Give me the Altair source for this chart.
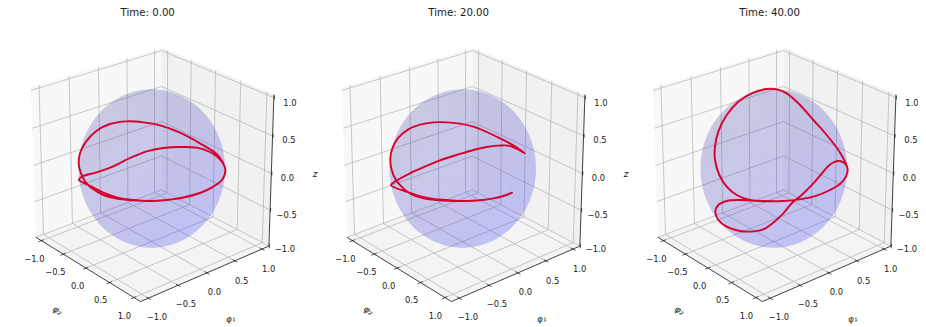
import numpy as np
import pandas as pd
import altair as alt

# figure-pixel frame of the picture
W, H = 910, 317
PANEL_DX = [0, 311, 622]
TITLES = ["Time: 0.00", "Time: 20.00", "Time: 40.00"]
TICKS = [-1.0, -0.5, 0.0, 0.5, 1.0]
TICK_TEXT = ["\u22121.0", "\u22120.5", "0.0", "0.5", "1.0"]

# box geometry
L, ZL, ZT = 1.13, -1.0, 1.04
CAM_3D = [(-L, -L, ZL), (L, -L, ZL), (L, L, ZL), (-L, L, ZL),
          (-L, -L, ZT), (-L, L, ZT), (L, L, ZT),
          (0, -L, ZL), (L, 0, ZL), (L, L, 0), (-L, L, 0)]
CAM_2D = [(36, 238), (140, 300.7), (268.5, 246.5), (161.7, 189),
          (31, 87), (161.7, 48), (274, 94.5),
          (86, 268.3), (207.3, 273.3), (271.7, 173.3), (160.8, 121.7)]

# tick-label positions
A_LABEL_XY = [(34.3, 259.2), (55.3, 272.2), (77.7, 285.8), (100.7, 300.2), (124.3, 315.5)]
B_LABEL_XY = [(157, 316.5), (186, 303.8), (214.3, 291.5), (241.7, 280.5), (268.7, 269.2)]
Z_LABEL_XY = [(285, 249.2), (286.7, 214.5), (287.5, 177.5), (289, 140.2), (290, 102.8)]

SPHERE_C, SPHERE_RX, SPHERE_RY = (151.7, 168.5), 73.3, 79.2

# trajectories (3x zoom pixels, relative to each crop origin)
CURVE_0 = [(592, 581), (550, 592), (500, 600), (450, 603), (400, 600), (350, 592), (310, 578), (275, 560),
           (250, 548), (237, 540), (245, 530), (290, 517), (340, 499), (390, 474), (440, 454), (490, 444),
           (540, 441), (590, 443), (630, 456), (660, 478), (676, 508), (668, 537), (640, 560), (600, 579),
           (550, 593), (500, 600), (450, 603), (400, 601), (350, 596), (310, 585), (280, 568), (258, 548),
           (243, 520), (236, 490), (240, 460), (258, 425), (290, 392), (330, 372), (380, 364), (430, 367),
           (480, 376), (540, 398), (600, 430), (650, 462), (670, 490)]
CURVE_1 = [(606, 578), (580, 588), (550, 595), (510, 601), (460, 603), (410, 600), (370, 597), (335, 590),
           (305, 580), (280, 572), (258, 564), (243, 556), (250, 548), (268, 537), (300, 520), (340, 502),
           (390, 481), (440, 465), (490, 450), (530, 441), (565, 437), (595, 437), (620, 446), (645, 460),
           (610, 436), (570, 415), (530, 396), (490, 380), (450, 371), (410, 367), (370, 367), (330, 374),
           (295, 388), (265, 413), (247, 445), (241, 475), (245, 510), (258, 540), (280, 565), (305, 583),
           (340, 595), (390, 601), (440, 603), (500, 601), (550, 595), (585, 587), (606, 578)]
CURVE_2 = [(683, 510), (680, 497), (670, 487), (655, 483), (637, 489), (622, 501), (610, 515), (580, 550),
           (545, 585), (515, 610), (490, 640), (455, 672), (430, 688), (400, 694), (360, 693), (320, 680),
           (295, 660), (286, 635), (295, 615), (320, 603), (360, 600), (420, 603), (490, 603), (540, 598),
           (590, 587), (630, 570), (660, 552), (678, 530), (683, 508), (675, 485), (655, 450), (620, 405),
           (580, 360), (540, 315), (500, 280), (470, 268), (440, 267), (395, 280), (355, 305), (320, 345),
           (295, 395), (285, 440), (285, 480), (298, 525), (320, 560), (350, 585), (390, 600), (440, 604),
           (490, 603)]
CURVE_ORIGIN = [0, 310, 620]
CURVES = [CURVE_0, CURVE_1, CURVE_2]

# camera fitted to the measured box points
A = []
b = []
for (X, Y, Z), (u, v) in zip(CAM_3D, CAM_2D):
    A.append([X, Y, Z, 1, 0, 0, 0, 0, -u * X, -u * Y, -u * Z]); b.append(u)
    A.append([0, 0, 0, 0, X, Y, Z, 1, -v * X, -v * Y, -v * Z]); b.append(v)
p = np.linalg.lstsq(np.array(A, float), np.array(b, float), rcond=None)[0]
P = np.append(p, 1).reshape(3, 4)


def proj(pt):
    q = P @ np.array([pt[0], pt[1], pt[2], 1.0])
    return q[0] / q[2], q[1] / q[2]


def envelope(poly):
    """Upper/lower boundary of a convex polygon as an x, y, y2 table."""
    xs = sorted({round(x, 4) for x, _ in poly})
    rows = []
    n = len(poly)
    for x in xs:
        ys = []
        for i in range(n):
            (x0, y0), (x1, y1) = poly[i], poly[(i + 1) % n]
            lo, hi = min(x0, x1), max(x0, x1)
            if lo - 1e-3 <= x <= hi + 1e-3:
                if abs(x1 - x0) < 1e-3:
                    ys += [y0, y1]
                else:
                    ys.append(y0 + (y1 - y0) * (x - x0) / (x1 - x0))
        rows.append((x, min(ys), max(ys)))
    return pd.DataFrame(rows, columns=["x", "y", "y2"])


X_ENC = alt.X("x:Q", scale=alt.Scale(domain=[8, 8 + W], nice=False, zero=False), axis=None)
Y_ENC = alt.Y("y:Q", scale=alt.Scale(domain=[8 + H, 8], nice=False, zero=False), axis=None)

layers = []


def area(df, **kw):
    layers.append(alt.Chart(df).mark_area(**kw).encode(x=X_ENC, y=Y_ENC, y2="y2:Q"))


def segs(rows, **kw):
    df = pd.DataFrame(rows, columns=["x", "y", "x2", "y2"])
    layers.append(alt.Chart(df).mark_rule(**kw).encode(x=X_ENC, y=Y_ENC, x2="x2:Q", y2="y2:Q"))


def texts(rows, **kw):
    df = pd.DataFrame(rows, columns=["x", "y", "t"])
    layers.append(alt.Chart(df).mark_text(align="center", baseline="middle", font="DejaVu Sans", **kw)
                  .encode(x=X_ENC, y=Y_ENC, text="t:N"))


def seg3(a, c, dx):
    (x0, y0), (x1, y1) = proj(a), proj(c)
    return (x0 + dx, y0, x1 + dx, y1)


grid_rows, spine_rows, tick_rows = [], [], []
mesh_rows = []
label_rows, title_rows = [], []
phi2_rows, phi1_rows, z_rows = [], [], []

for k, dx in enumerate(PANEL_DX):
    # panes
    left = [proj(c) for c in [(-L, -L, ZL), (-L, -L, ZT), (-L, L, ZT), (-L, L, ZL)]]
    right = [proj(c) for c in [(-L, L, ZL), (-L, L, ZT), (L, L, ZT), (L, L, ZL)]]
    floor = [proj(c) for c in [(-L, -L, ZL), (L, -L, ZL), (L, L, ZL), (-L, L, ZL)]]
    for poly, col in [(left, "#f8f8f8"), (right, "#f1f1f1"), (floor, "#f4f4f4")]:
        area(envelope([(x + dx, y) for x, y in poly]), color=col)
    # grid lines
    for t in TICKS:
        grid_rows.append(seg3((-L, -L, t), (-L, L, t), dx))
        grid_rows.append(seg3((-L, L, t), (L, L, t), dx))
        grid_rows.append(seg3((t, -L, ZL), (t, L, ZL), dx))
        grid_rows.append(seg3((t, L, ZL), (t, L, ZT), dx))
        grid_rows.append(seg3((L, t, ZL), (-L, t, ZL), dx))
        grid_rows.append(seg3((-L, t, ZL), (-L, t, ZT), dx))
    # spines
    spine_rows.append(seg3((-L, -L, ZL), (L, -L, ZL), dx))
    spine_rows.append(seg3((L, -L, ZL), (L, L, ZL), dx))
    spine_rows.append(seg3((L, L, ZL), (L, L, ZT), dx))
    # ticks
    for t in TICKS:
        tick_rows.append(seg3((t, -L - 0.05, ZL), (t, -L + 0.04, ZL), dx))
        tick_rows.append(seg3((L + 0.05, t, ZL), (L - 0.04, t, ZL), dx))
        tick_rows.append(seg3((L - 0.04, L + 0.05, t), (L + 0.05, L - 0.04, t), dx))
    # tick labels
    for s, (x, y) in zip(TICK_TEXT, A_LABEL_XY):
        label_rows.append((x + dx, y, s))
    for s, (x, y) in zip(TICK_TEXT, B_LABEL_XY):
        label_rows.append((x + dx, y, s))
    for s, (x, y) in zip(TICK_TEXT, Z_LABEL_XY):
        label_rows.append((x + dx, y, s))
    title_rows.append((147.7 + dx, 13.3, TITLES[k]))
    phi2_rows.append((57.5 + dx, 310.5, "\u03c6\u2082"))
    phi1_rows.append((230.5 + dx, 318.7, "\u03c6\u2081"))
    if dx + 320 < 8 + W:
        z_rows.append((315 + dx, 174, "z"))

    # faint facets of the translucent sphere
    cx, cy = SPHERE_C
    def inside(xy):
        return ((xy[0] - cx) / SPHERE_RX) ** 2 + ((xy[1] - cy) / SPHERE_RY) ** 2 <= 0.995
    lon = np.linspace(0, 2 * np.pi, 25)
    lat = np.linspace(-np.pi / 2, np.pi / 2, 13)
    for i in range(len(lon) - 1):
        for j in range(len(lat) - 1):
            p0 = (np.cos(lat[j]) * np.cos(lon[i]), np.cos(lat[j]) * np.sin(lon[i]), np.sin(lat[j]))
            p1 = (np.cos(lat[j + 1]) * np.cos(lon[i]), np.cos(lat[j + 1]) * np.sin(lon[i]), np.sin(lat[j + 1]))
            p2 = (np.cos(lat[j]) * np.cos(lon[i + 1]), np.cos(lat[j]) * np.sin(lon[i + 1]), np.sin(lat[j]))
            if inside(proj(p0)) and inside(proj(p1)):
                mesh_rows.append(seg3(p0, p1, dx))
            if inside(proj(p0)) and inside(proj(p2)):
                mesh_rows.append(seg3(p0, p2, dx))

segs(grid_rows, color="#b2b2b2", strokeWidth=0.75, opacity=0.95)

# translucent spheres
theta = np.linspace(0, np.pi, 161)
for dx in PANEL_DX:
    cx, cy = SPHERE_C
    sph = pd.DataFrame({
        "x": cx + dx - SPHERE_RX * np.cos(theta),
        "y": cy - SPHERE_RY * np.sin(theta),
        "y2": cy + SPHERE_RY * np.sin(theta),
    })
    grad = alt.Gradient(
        gradient="linear", x1=0.1, y1=0.05, x2=0.75, y2=0.9,
        stops=[alt.GradientStop(color="#45459a", offset=0.0),
               alt.GradientStop(color="#4040c0", offset=0.45),
               alt.GradientStop(color="#3535f5", offset=1.0)],
    )
    area(sph, color=grad, opacity=0.26)

segs(mesh_rows, color="#3a3a80", strokeWidth=0.4, opacity=0.03)

segs(spine_rows, color="#111111", strokeWidth=0.8)
segs(tick_rows, color="#111111", strokeWidth=0.7)

# trajectories
for pts, ox in zip(CURVES, CURVE_ORIGIN):
    df = pd.DataFrame({
        "x": [ox + x / 3 for x, _ in pts],
        "y": [y / 3 for _, y in pts],
        "i": range(len(pts)),
    })
    layers.append(alt.Chart(df).mark_line(color="#d8002c", strokeWidth=1.9, interpolate="catmull-rom",
                                          strokeJoin="round", strokeCap="round")
                  .encode(x=X_ENC, y=Y_ENC, order="i:Q"))

texts(label_rows, fontSize=8.4, color="#1a1a1a")
texts(title_rows, fontSize=10.2, color="#1a1a1a")
texts(phi2_rows, fontSize=8.8, color="#1a1a1a", fontStyle="italic", angle=32)
texts(phi1_rows, fontSize=8.8, color="#1a1a1a", fontStyle="italic", angle=350)
texts(z_rows, fontSize=8.8, color="#1a1a1a", fontStyle="italic")

chart = alt.layer(*layers).properties(width=W, height=H, padding=0, autosize=alt.AutoSizeParams(type="none"),
                                      background="white").configure_view(stroke=None)
chart.save("out.html", embed_options={"renderer": "svg", "actions": False})
